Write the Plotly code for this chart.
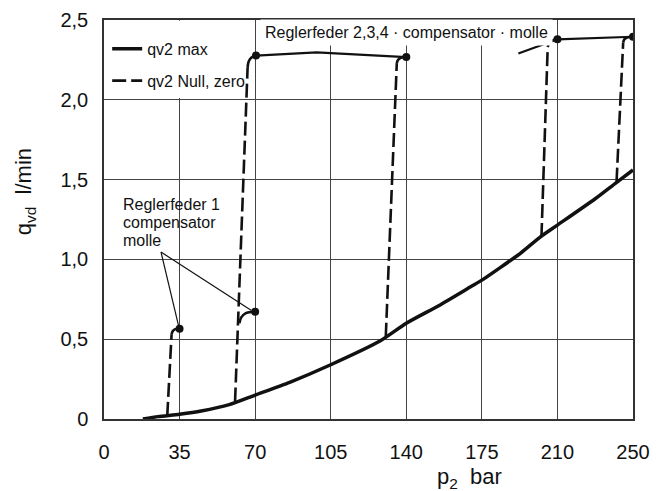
import plotly.graph_objects as go

# ---------------- data (p2 in bar, q_vd in l/min) ----------------
x_ticks = [0, 35, 70, 105, 140, 175, 210, 250]
x_tick_labels = ["0", "35", "70", "105", "140", "175", "210", "250"]
y_ticks = [0, 0.5, 1.0, 1.5, 2.0, 2.5]
y_tick_labels = ["0", "0,5", "1,0", "1,5", "2,0", "2,5"]

# qv2 max (solid thick curve)
max_p = [18, 25, 35, 45, 58, 70, 86, 105, 128, 140, 155, 170, 175, 193, 202, 210, 230, 241, 250]
max_q = [0.00, 0.015, 0.03, 0.05, 0.09, 0.15, 0.23, 0.34, 0.49, 0.60, 0.71, 0.83, 0.87, 1.04, 1.14, 1.215, 1.38, 1.48, 1.56]

# qv2 Null, zero (dashed jumps)
null1_p = [29.3, 31.3];   null1_q = [0.02, 0.53]
null2_p = [60.7, 66.5];   null2_q = [0.11, 2.20]
null3_p = [130.5, 135.6]; null3_q = [0.515, 2.23]
null4_p = [202.6, 205.5]; null4_q = [1.14, 2.33]
null5_p = [241.3, 244.8]; null5_q = [1.487, 2.36]

# bends into the end points (solid)
bend1_p = [31.3, 31.8, 33.0, 35.0];    bend1_q = [0.53, 0.55, 0.563, 0.565]
bend2_p = [62.7, 63.5, 65.5, 70.0];    bend2_q = [0.60, 0.635, 0.662, 0.672]
bend3_p = [66.5, 67.0, 68.3, 70.4];    bend3_q = [2.20, 2.24, 2.265, 2.277]
bend4_p = [135.6, 136.2, 137.8, 140.0]; bend4_q = [2.23, 2.25, 2.265, 2.268]
bend5_p = [205.5, 206.2, 207.8, 210.0]; bend5_q = [2.33, 2.355, 2.372, 2.379]
bend6_p = [244.8, 245.5, 247.3, 250.0]; bend6_q = [2.36, 2.38, 2.392, 2.395]

# upper curves (Reglerfeder 2,3,4)
top1_p = [70.4, 98.5, 140.0]; top1_q = [2.277, 2.297, 2.268]
top2_p = [210.0, 250.0];      top2_q = [2.379, 2.395]
stub_p = [191.9, 210.0];      stub_q = [2.29, 2.379]

# end points
dot_p = [35.0, 70.0, 70.4, 140.0, 210.0, 250.0]
dot_q = [0.565, 0.672, 2.277, 2.268, 2.379, 2.395]

# pointer lines for label "Reglerfeder 1"
ptr1_p = [26.4, 34.6]; ptr1_q = [1.046, 0.58]
ptr2_p = [26.4, 68.3]; ptr2_q = [1.046, 0.68]

label1_lines = ["Reglerfeder 1", "compensator", "molle"]
label1_q = [1.345, 1.232, 1.12]


# The printed p2 axis has equal spacing for 210->250 as for 35-bar steps.
def xpos(p):
    return p if p <= 210 else 210 + (p - 210) * 35.0 / 40.0


def join(pairs):
    xs, ys = [], []
    for px, qy in pairs:
        if xs:
            xs.append(None); ys.append(None)
        xs += [xpos(v) for v in px]
        ys += list(qy)
    return xs, ys


FONT = "Liberation Sans, Arial, Helvetica, sans-serif"
INK = "#111111"

fig = go.Figure()

mx, my = join([(max_p, max_q)])
fig.add_trace(go.Scatter(x=mx, y=my, mode="lines", name="qv2 max",
                         line=dict(color=INK, width=3.5, shape="spline", smoothing=0.6),
                         legendgroup="a"))

nx, ny = join([(null1_p, null1_q), (null2_p, null2_q), (null3_p, null3_q),
               (null4_p, null4_q), (null5_p, null5_q)])
fig.add_trace(go.Scatter(x=nx, y=ny, mode="lines", name="qv2 Null, zero",
                         line=dict(color=INK, width=2.6, dash="14px,5px"),
                         legendgroup="b"))

bx, by = join([(bend1_p, bend1_q), (bend2_p, bend2_q), (bend3_p, bend3_q),
               (bend4_p, bend4_q), (bend5_p, bend5_q), (bend6_p, bend6_q)])
fig.add_trace(go.Scatter(x=bx, y=by, mode="lines", showlegend=False,
                         line=dict(color=INK, width=2.6, shape="spline")))

tx, ty = join([(top1_p, top1_q), (top2_p, top2_q), (stub_p, stub_q)])
fig.add_trace(go.Scatter(x=tx, y=ty, mode="lines", showlegend=False,
                         line=dict(color=INK, width=2.2)))

px_, py_ = join([(ptr1_p, ptr1_q), (ptr2_p, ptr2_q)])
fig.add_trace(go.Scatter(x=px_, y=py_, mode="lines", showlegend=False,
                         line=dict(color=INK, width=1.2)))

fig.add_trace(go.Scatter(x=[xpos(v) for v in dot_p], y=dot_q, mode="markers",
                         showlegend=False,
                         marker=dict(color=INK, size=8)))

# white area behind the legend (hides grid there)
fig.add_shape(type="rect", xref="x", yref="y", x0=0.6, x1=69.3, y0=2.012, y1=2.495,
              fillcolor="white", line=dict(width=0), layer="between")

fig.add_annotation(x=xpos(140), y=2.42, xref="x", yref="y",
                   text="Reglerfeder 2,3,4 · compensator · molle",
                   showarrow=False, font=dict(family=FONT, size=16, color=INK),
                   bgcolor="white", borderpad=4, xanchor="center", yanchor="middle")

for txt, qv in zip(label1_lines, label1_q):
    fig.add_annotation(x=7.9, y=qv, xref="x", yref="y", text=txt, align="left",
                       showarrow=False, font=dict(family=FONT, size=16, color=INK),
                       xanchor="left", yanchor="middle")

fig.add_annotation(x=0.69, y=-0.148, xref="paper", yref="paper",
                   text="p<sub>2</sub>  bar", showarrow=False,
                   font=dict(family=FONT, size=22, color=INK),
                   xanchor="center", yanchor="middle")

fig.add_annotation(x=-0.149, y=0.569, xref="paper", yref="paper",
                   text="q<sub>vd</sub>  l/min", showarrow=False, textangle=-90,
                   font=dict(family=FONT, size=22, color=INK),
                   xanchor="center", yanchor="middle")

fig.update_layout(
    width=659, height=491,
    margin=dict(l=96, r=34, t=12, b=80, autoexpand=False),
    paper_bgcolor="white", plot_bgcolor="white",
    font=dict(family=FONT, color=INK),
    legend=dict(x=0.006, y=0.97, xanchor="left", yanchor="top",
                bgcolor="rgba(0,0,0,0)", font=dict(family=FONT, size=16, color=INK),
                itemwidth=30, tracegroupgap=8),
    xaxis=dict(range=[0, xpos(250)], tickvals=[xpos(v) for v in x_ticks],
               ticktext=x_tick_labels, showgrid=True, gridcolor="#444444",
               gridwidth=1.3, zeroline=False, showline=True, mirror=True,
               linecolor="#333333", linewidth=1.5, ticks="", automargin=False,
               tickfont=dict(family=FONT, size=20, color=INK), ticklabelstandoff=14),
    yaxis=dict(range=[0, 2.5], tickvals=y_ticks, ticktext=y_tick_labels,
               showgrid=True, gridcolor="#444444", gridwidth=1.3, zeroline=False,
               showline=True, mirror=True, linecolor="#333333", linewidth=1.5,
               ticks="", automargin=False,
               tickfont=dict(family=FONT, size=20, color=INK),
               ticklabelstandoff=10),
)

fig.write_html("out.html")
